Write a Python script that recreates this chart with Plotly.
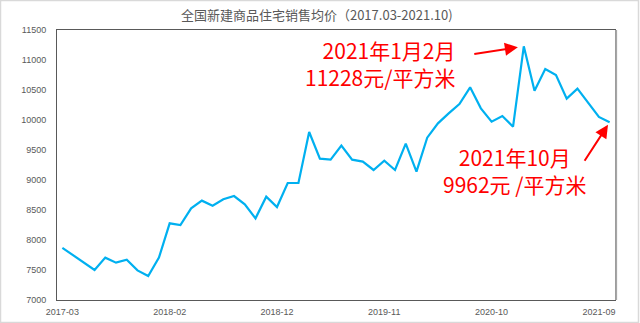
import plotly.graph_objects as go

months = ["2017-03", "2017-04", "2017-05", "2017-06", "2017-07", "2017-08", "2017-09", "2017-10", "2017-11", "2017-12",
          "2018-02", "2018-03", "2018-04", "2018-05", "2018-06", "2018-07", "2018-08", "2018-09", "2018-10", "2018-11", "2018-12",
          "2019-02", "2019-03", "2019-04", "2019-05", "2019-06", "2019-07", "2019-08", "2019-09", "2019-10", "2019-11", "2019-12",
          "2020-02", "2020-03", "2020-04", "2020-05", "2020-06", "2020-07", "2020-08", "2020-09", "2020-10", "2020-11", "2020-12",
          "2021-02", "2021-03", "2021-04", "2021-05", "2021-06", "2021-07", "2021-08", "2021-09", "2021-10"]
prices = [7870, 7745, 7620, 7500, 7706, 7622, 7672, 7494, 7400, 7706,
          8278, 8250, 8528, 8656, 8572, 8678, 8733, 8594, 8361, 8722, 8550,
          8950, 8950, 9800, 9356, 9339, 9572, 9339, 9306, 9167, 9322, 9167,
          9606, 9140, 9706, 9944, 10111, 10267, 10544, 10194, 9972, 10067, 9889,
          11228, 10489, 10850, 10750, 10356, 10522, 10289, 10050, 9962]
tick_labels = ["2017-03", "2018-02", "2018-12", "2019-11", "2020-10", "2021-09"]
y_ticks = [7000, 7500, 8000, 8500, 9000, 9500, 10000, 10500, 11000, 11500]
y_tick_text = ["7000", "7500", "8000", "8500", "9000", "9500", "10000", "10500", "11000", "11500"]

title_text = "全国新建商品住宅销售均价（2017.03-2021.10)"
peak_label = "2021年1月2月<br>11228元/平方米"
last_label = "2021年10月<br>9962元 /平方米"

fig = go.Figure()
fig.add_trace(go.Scatter(x=months, y=prices, mode="lines",
                         line=dict(color="#00B0F0", width=2.2), hoverinfo="x+y"))

W, H = 640, 323
L, R, T, B = 57, 25, 30, 23
pw, ph = W - L - R, H - T - B

def px(x):
    return (x - L) / pw

def py(y):
    return (H - B - y) / ph

fig.update_layout(
    width=W, height=H,
    margin=dict(l=L, r=R, t=T, b=B, autoexpand=False),
    paper_bgcolor="white", plot_bgcolor="white",
    showlegend=False,
    font=dict(family="Noto Sans CJK SC, Liberation Sans, sans-serif", color="#595959"),
    title=dict(text=title_text, x=0.495, xref="container", xanchor="center",
               y=1 - 15 / H, yanchor="middle", font=dict(size=13, color="#595959")),
)
fig.update_xaxes(type="category", range=[-0.5, len(months) - 0.5], automargin=False,
                 tickmode="array", tickvals=tick_labels, ticktext=tick_labels,
                 showgrid=False, showline=True, linecolor="#595959", linewidth=1, mirror=True,
                 ticks="", ticklabelstandoff=3,
                 tickfont=dict(size=9, color="#595959", family="Liberation Sans, sans-serif"))
fig.update_yaxes(range=[7000, 11500], tickmode="array", tickvals=y_ticks, ticktext=y_tick_text,
                 automargin=False,
                 showgrid=False, showline=True, linecolor="#595959", linewidth=1, mirror=True,
                 ticks="", ticklabelstandoff=8, zeroline=False,
                 tickfont=dict(size=9, color="#595959", family="Liberation Sans, sans-serif"))

# right frame edge appears lighter/thicker
fig.add_shape(type="line", xref="paper", yref="paper", x0=1.002, x1=1.002, y0=0, y1=1,
              line=dict(color="#a6a6a6", width=2))
# outer picture border
fig.add_shape(type="rect", xref="paper", yref="paper",
              x0=px(0.5), x1=px(W - 1.5), y0=py(H - 0.5), y1=py(0.5),
              line=dict(color="#d9d9d9", width=1.5))

red = "#FF0000"
fig.add_annotation(xref="paper", yref="paper", x=px(458), y=py(64), xanchor="right", yanchor="middle",
                   text=peak_label, showarrow=False, align="right",
                   font=dict(size=21, color=red, family="Noto Sans CJK SC, sans-serif"))
fig.add_annotation(xref="paper", yref="paper", x=px(515), y=py(171), xanchor="center", yanchor="middle",
                   text=last_label, showarrow=False, align="center",
                   font=dict(size=21, color=red, family="Noto Sans CJK SC, sans-serif"))

# arrows
fig.add_annotation(x=months[43], y=prices[43], ax=-51, ay=8, text="", showarrow=True,
                   arrowhead=2, arrowsize=1.3, arrowwidth=2, arrowcolor=red, standoff=6)
fig.add_annotation(x=months[-1], y=prices[-1], ax=-26, ay=40, text="", showarrow=True,
                   arrowhead=2, arrowsize=1.3, arrowwidth=2, arrowcolor=red, standoff=3)

fig.write_html("out.html")
